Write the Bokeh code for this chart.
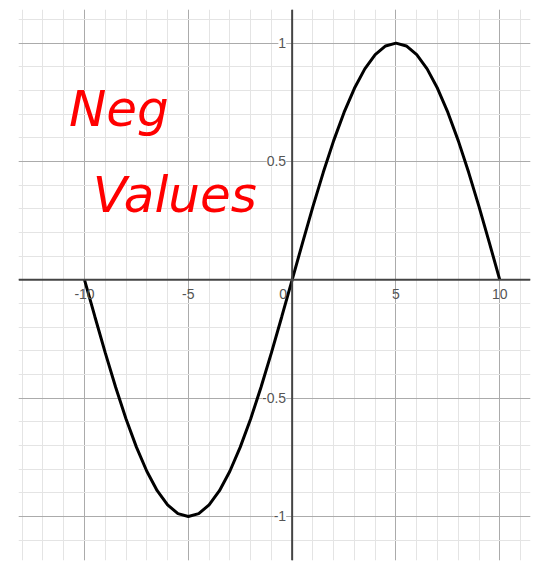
from bokeh.plotting import figure
from bokeh.models import Range1d, Grid, SingleIntervalTicker, Span
from bokeh.core.properties import value
from bokeh.embed import file_html
from bokeh.resources import INLINE

# curve samples
curve_x = [-10, -9.5, -9, -8.5, -8, -7.5, -7, -6.5, -6, -5.5, -5, -4.5, -4, -3.5, -3, -2.5,
           -2, -1.5, -1, -0.5, 0, 0.5, 1, 1.5, 2, 2.5, 3, 3.5, 4, 4.5, 5, 5.5, 6, 6.5, 7,
           7.5, 8, 8.5, 9, 9.5, 10]
curve_y = [0, -0.156, -0.309, -0.454, -0.588, -0.707, -0.809, -0.891, -0.951, -0.988, -1.0,
           -0.988, -0.951, -0.891, -0.809, -0.707, -0.588, -0.454, -0.309, -0.156, 0,
           0.156, 0.309, 0.454, 0.588, 0.707, 0.809, 0.891, 0.951, 0.988, 1.0,
           0.988, 0.951, 0.891, 0.809, 0.707, 0.588, 0.454, 0.309, 0.156, 0]

x_tick_vals = [-10, -5, 5, 10]
x_tick_labels = ["-10", "-5", "5", "10"]
y_tick_vals = [1, 0.5, -0.5, -1]
y_tick_labels = ["1", "0.5", "-0.5", "-1"]
origin_label = ["0"]
note_lines = ["Neg", "Values"]
note_x = [-10.75, -9.6]
note_y = [0.72, 0.36]
note_sizes = ["50px", "50px"]

p = figure(width=534, height=564, output_backend="svg", toolbar_location=None,
           x_axis_type=None, y_axis_type=None,
           x_range=Range1d(-13.18, 11.48), y_range=Range1d(-1.186, 1.142),
           min_border_left=18, min_border_right=4, min_border_top=9, min_border_bottom=4)
p.outline_line_color = None
p.background_fill_color = "white"

xg = Grid(dimension=0, ticker=SingleIntervalTicker(interval=5, num_minor_ticks=5),
          grid_line_color="#ababab", grid_line_width=1,
          minor_grid_line_color="#e4e4e4", minor_grid_line_width=1)
yg = Grid(dimension=1, ticker=SingleIntervalTicker(interval=0.5, num_minor_ticks=5),
          grid_line_color="#ababab", grid_line_width=1,
          minor_grid_line_color="#e4e4e4", minor_grid_line_width=1)
p.add_layout(xg)
p.add_layout(yg)

p.add_layout(Span(location=0, dimension="height", line_color="#444444", line_width=2))
p.add_layout(Span(location=0, dimension="width", line_color="#444444", line_width=2))

p.line(curve_x, curve_y, line_color="black", line_width=3)

lab_font = value("Liberation Sans")
p.text(x=x_tick_vals, y=[0] * len(x_tick_vals), text=x_tick_labels,
       text_align="center", text_baseline="middle", y_offset=14,
       text_font=lab_font, text_font_size="14px", text_color="#555555")
p.text(x=[0], y=[0], text=origin_label, text_align="right", text_baseline="middle",
       x_offset=-5, y_offset=14, text_font=lab_font, text_font_size="14px", text_color="#555555")
p.text(x=[0] * len(y_tick_vals), y=y_tick_vals, text=y_tick_labels,
       text_align="right", text_baseline="middle", x_offset=-6,
       text_font=lab_font, text_font_size="14px", text_color="#555555",
       background_fill_color="white")

p.text(x=note_x, y=note_y, text=note_lines, text_align="left", text_baseline="alphabetic",
       text_font=value("DejaVu Sans"), text_font_style="italic",
       text_font_size=note_sizes[0], text_color="#ff0000")

open("out.html", "w").write(file_html(p, INLINE))
